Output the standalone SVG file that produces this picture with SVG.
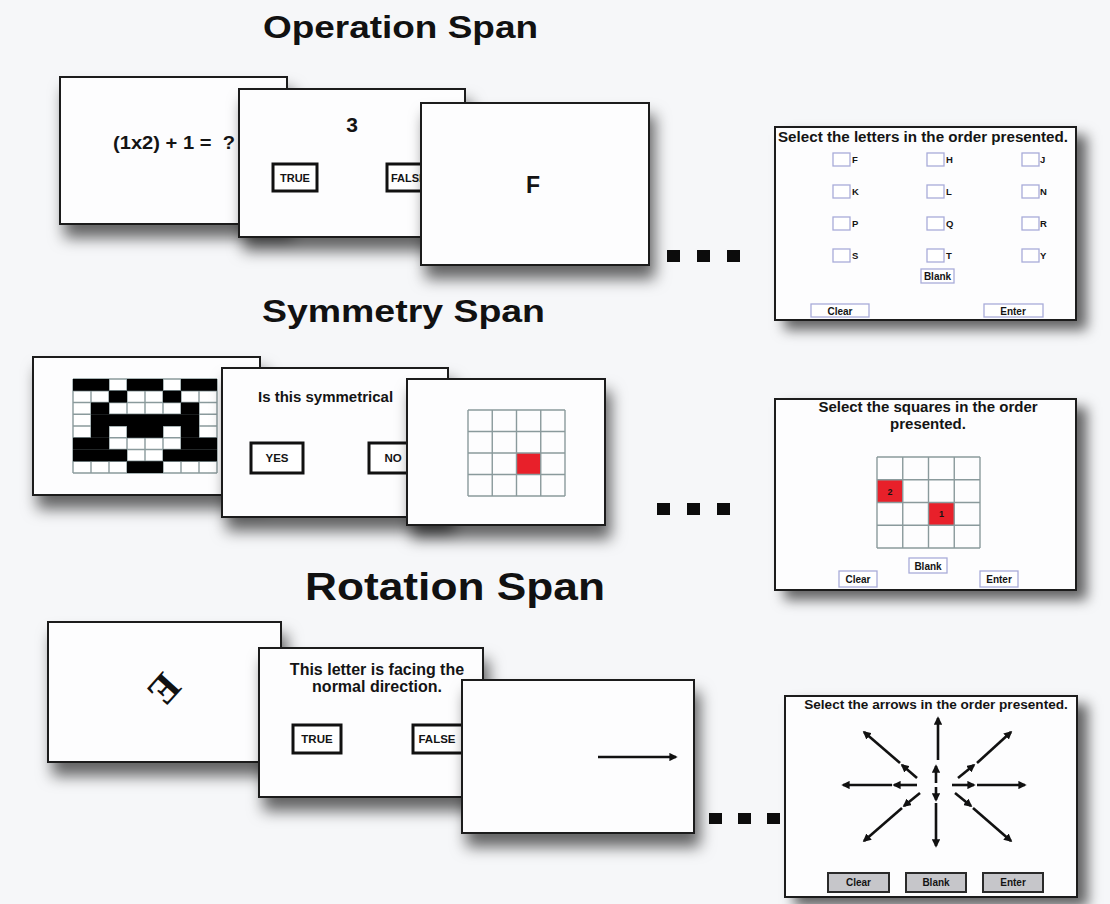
<svg xmlns="http://www.w3.org/2000/svg" width="1110" height="904" viewBox="0 0 1110 904">
<defs>
<style>
.title{font-family:"Liberation Sans",Arial,sans-serif;font-weight:bold;fill:#111}
.t{font-family:"Liberation Sans",Arial,sans-serif;font-weight:bold;fill:#141414}
.scr{fill:#fdfdfe;stroke:#1c1c1c;stroke-width:2}
.btn{fill:#fff;stroke:#111;stroke-width:3}
.cb{fill:#fff;stroke:#a9acd9;stroke-width:1.3}
.gb{fill:#c6c6ca;stroke:#2a2a2a;stroke-width:2}
.grid{fill:none;stroke:#8a9a9c;stroke-width:1.4}
.blk{fill:#000}
.red{fill:#e8202a}
.arr{stroke:#111;stroke-width:2.6;fill:none;marker-end:url(#ah)}
.dot{fill:#0c0c0c}
</style>
<filter id="sh" x="-15%" y="-15%" width="140%" height="150%">
<feDropShadow dx="5" dy="13" stdDeviation="7.5" flood-color="#000" flood-opacity="0.6"/>
</filter>
<filter id="shr" x="-15%" y="-15%" width="140%" height="150%">
<feDropShadow dx="10" dy="9" stdDeviation="6.5" flood-color="#000" flood-opacity="0.6"/>
</filter>
<marker id="ah" viewBox="0 0 10 10" refX="8" refY="5" markerWidth="3.2" markerHeight="3.2" orient="auto" markerUnits="strokeWidth">
<path d="M0,0 L10,5 L0,10 z" fill="#111"/>
</marker>
</defs>
<rect width="1110" height="904" fill="#f6f7f9"/>

<text class="title" x="263" y="38" font-size="31" textLength="275" lengthAdjust="spacingAndGlyphs">Operation Span</text>
<text class="title" x="262" y="322" font-size="31" textLength="283" lengthAdjust="spacingAndGlyphs">Symmetry Span</text>
<text class="title" x="305" y="600" font-size="38" textLength="300" lengthAdjust="spacingAndGlyphs">Rotation Span</text>

<!-- Operation span -->
<g id="op-equation">
<rect class="scr" x="60" y="77" width="227" height="147" filter="url(#sh)"/>
<text class="t" x="113" y="149" font-size="19" textLength="122" lengthAdjust="spacingAndGlyphs" style="white-space:pre">(1x2) + 1 =  ?</text>
</g>
<g id="op-answer">
<rect class="scr" x="239" y="89" width="226" height="148" filter="url(#sh)"/>
<text class="t" x="352" y="132" font-size="21" text-anchor="middle">3</text>
<rect class="btn" x="273" y="164" width="44" height="27"/>
<text class="t" x="295" y="182" font-size="11" text-anchor="middle">TRUE</text>
<rect class="btn" x="387" y="164" width="48" height="27"/>
<text class="t" x="391" y="182" font-size="11">FALSE</text>
</g>
<g id="op-letter">
<rect class="scr" x="421" y="103" width="228" height="162" filter="url(#sh)"/>
<text class="t" x="533" y="193" font-size="23" text-anchor="middle">F</text>
</g>
<g id="op-dots">
<rect class="dot" x="667" y="250" width="13" height="12"/>
<rect class="dot" x="697" y="250" width="13" height="12"/>
<rect class="dot" x="727" y="250" width="13" height="12"/>
</g>
<g id="op-recall">
<rect class="scr" x="775" y="127" width="301" height="193" filter="url(#shr)"/>
<text class="t" x="778" y="142" font-size="14" textLength="290" lengthAdjust="spacingAndGlyphs">Select the letters in the order presented.</text>
<g>
<rect class="cb" x="833" y="153" width="17" height="13"/><text class="t" x="852" y="163" font-size="9.5">F</text>
<rect class="cb" x="927" y="153" width="17" height="13"/><text class="t" x="946" y="163" font-size="9.5">H</text>
<rect class="cb" x="1022" y="153" width="17" height="13"/><text class="t" x="1040" y="163" font-size="9.5">J</text>
<rect class="cb" x="833" y="185" width="17" height="13"/><text class="t" x="852" y="195" font-size="9.5">K</text>
<rect class="cb" x="927" y="185" width="17" height="13"/><text class="t" x="946" y="195" font-size="9.5">L</text>
<rect class="cb" x="1022" y="185" width="17" height="13"/><text class="t" x="1040" y="195" font-size="9.5">N</text>
<rect class="cb" x="833" y="217" width="17" height="13"/><text class="t" x="852" y="227" font-size="9.5">P</text>
<rect class="cb" x="927" y="217" width="17" height="13"/><text class="t" x="946" y="227" font-size="9.5">Q</text>
<rect class="cb" x="1022" y="217" width="17" height="13"/><text class="t" x="1040" y="227" font-size="9.5">R</text>
<rect class="cb" x="833" y="249" width="17" height="13"/><text class="t" x="852" y="259" font-size="9.5">S</text>
<rect class="cb" x="927" y="249" width="17" height="13"/><text class="t" x="946" y="259" font-size="9.5">T</text>
<rect class="cb" x="1022" y="249" width="17" height="13"/><text class="t" x="1040" y="259" font-size="9.5">Y</text>
</g>
<rect class="cb" x="921" y="269" width="33" height="14"/>
<text class="t" x="937.5" y="279.5" font-size="10" text-anchor="middle">Blank</text>
<rect class="cb" x="811" y="304" width="58" height="13"/>
<text class="t" x="840" y="314.5" font-size="10" text-anchor="middle">Clear</text>
<rect class="cb" x="984" y="304" width="59" height="13"/>
<text class="t" x="1013" y="314.5" font-size="10" text-anchor="middle">Enter</text>
</g>

<!-- Symmetry span -->
<g id="sym-matrix">
<rect class="scr" x="33" y="357" width="227" height="138" filter="url(#sh)"/>
<rect x="73" y="379" width="144" height="94" fill="#fff"/>
<path class="grid" d="M73,379V473M91,379V473M109,379V473M127,379V473M145,379V473M163,379V473M181,379V473M199,379V473M217,379V473M73,379H217M73,390.75H217M73,402.5H217M73,414.25H217M73,426H217M73,437.75H217M73,449.5H217M73,461.25H217M73,473H217"/>
<rect class="blk" x="73" y="379" width="36" height="11.75"/>
<rect class="blk" x="127" y="379" width="36" height="11.75"/>
<rect class="blk" x="181" y="379" width="36" height="11.75"/>
<rect class="blk" x="109" y="390.75" width="18" height="11.75"/>
<rect class="blk" x="163" y="390.75" width="18" height="11.75"/>
<rect class="blk" x="91" y="402.5" width="18" height="11.75"/>
<rect class="blk" x="181" y="402.5" width="18" height="11.75"/>
<rect class="blk" x="91" y="414.25" width="108" height="11.75"/>
<rect class="blk" x="91" y="426" width="18" height="11.75"/>
<rect class="blk" x="127" y="426" width="36" height="11.75"/>
<rect class="blk" x="181" y="426" width="18" height="11.75"/>
<rect class="blk" x="73" y="437.75" width="36" height="11.75"/>
<rect class="blk" x="181" y="437.75" width="36" height="11.75"/>
<rect class="blk" x="73" y="449.5" width="54" height="11.75"/>
<rect class="blk" x="163" y="449.5" width="54" height="11.75"/>
<rect class="blk" x="127" y="461.25" width="36" height="11.75"/>
</g>
<g id="sym-question">
<rect class="scr" x="222" y="368" width="226" height="149" filter="url(#sh)"/>
<text class="t" x="258" y="402" font-size="15">Is this symmetrical</text>
<rect class="btn" x="251" y="443" width="52" height="30"/>
<text class="t" x="277" y="462" font-size="11.5" text-anchor="middle">YES</text>
<rect class="btn" x="369" y="443" width="52" height="30"/>
<text class="t" x="393" y="462" font-size="11.5" text-anchor="middle">NO</text>
</g>
<g id="sym-square">
<rect class="scr" x="407" y="379" width="198" height="146" filter="url(#sh)"/>
<rect class="red" x="516.5" y="453" width="24.25" height="21.5"/>
<path class="grid" d="M468,410V496M492.25,410V496M516.5,410V496M540.75,410V496M565,410V496M468,410H565M468,431.5H565M468,453H565M468,474.5H565M468,496H565"/>
</g>
<g id="sym-dots">
<rect class="dot" x="657" y="503" width="13" height="12"/>
<rect class="dot" x="687" y="503" width="13" height="12"/>
<rect class="dot" x="717" y="503" width="13" height="12"/>
</g>
<g id="sym-recall">
<rect class="scr" x="775" y="399" width="301" height="191" filter="url(#shr)"/>
<text class="t" x="928" y="412" font-size="15" text-anchor="middle">Select the squares in the order</text>
<text class="t" x="928" y="429" font-size="15" text-anchor="middle">presented.</text>
<rect class="red" x="877" y="479.75" width="25.75" height="22.75"/>
<rect class="red" x="928.5" y="502.5" width="25.75" height="22.75"/>
<path class="grid" d="M877,457V548M902.75,457V548M928.5,457V548M954.25,457V548M980,457V548M877,457H980M877,479.75H980M877,502.5H980M877,525.25H980M877,548H980"/>
<text class="t" x="889.9" y="494.5" font-size="9" text-anchor="middle">2</text>
<text class="t" x="941.4" y="517.3" font-size="9" text-anchor="middle">1</text>
<rect class="cb" x="909" y="558" width="38" height="15"/>
<text class="t" x="928" y="569.5" font-size="10" text-anchor="middle">Blank</text>
<rect class="cb" x="839" y="571" width="38" height="16"/>
<text class="t" x="858" y="583" font-size="10" text-anchor="middle">Clear</text>
<rect class="cb" x="980" y="571" width="38" height="16"/>
<text class="t" x="999" y="583" font-size="10" text-anchor="middle">Enter</text>
</g>

<!-- Rotation span -->
<g id="rot-letter">
<rect class="scr" x="48" y="622" width="233" height="140" filter="url(#sh)"/>
<text x="0" y="13" transform="translate(164,689) rotate(132)" text-anchor="middle" font-family="'Liberation Serif',serif" font-weight="bold" font-size="40" fill="#111">E</text>
</g>
<g id="rot-question">
<rect class="scr" x="259" y="648" width="224" height="149" filter="url(#sh)"/>
<text class="t" x="377" y="675" font-size="16" text-anchor="middle">This letter is facing the</text>
<text class="t" x="377" y="692" font-size="16" text-anchor="middle">normal direction.</text>
<rect class="btn" x="293" y="725" width="48" height="28"/>
<text class="t" x="317" y="743" font-size="11.5" text-anchor="middle">TRUE</text>
<rect class="btn" x="413" y="725" width="50" height="28"/>
<text class="t" x="437" y="743" font-size="11.5" text-anchor="middle">FALSE</text>
</g>
<g id="rot-arrow">
<rect class="scr" x="462" y="680" width="232" height="153" filter="url(#sh)"/>
</g>
<g id="rot-dots">
<rect class="dot" x="709" y="813" width="13" height="11"/>
<rect class="dot" x="738" y="813" width="13" height="11"/>
<rect class="dot" x="767" y="813" width="13" height="11"/>
</g>
<g id="rot-recall">
<rect class="scr" x="785" y="696" width="292" height="201" filter="url(#shr)"/>
<text class="t" x="936" y="709" font-size="13.6" text-anchor="middle">Select the arrows in the order presented.</text>
<rect class="gb" x="828" y="873" width="61" height="19"/>
<text class="t" x="858.5" y="886" font-size="10" text-anchor="middle" fill="#333">Clear</text>
<rect class="gb" x="906" y="873" width="60" height="19"/>
<text class="t" x="936" y="886" font-size="10" text-anchor="middle">Blank</text>
<rect class="gb" x="983" y="873" width="60" height="19"/>
<text class="t" x="1013" y="886" font-size="10" text-anchor="middle">Enter</text>
</g>

<g id="connectors">
<path class="arr" d="M598,757H676"/>
<path class="arr" d="M938,760V718"/>
<path class="arr" d="M936,783V766"/>
<path class="arr" d="M936,787V800"/>
<path class="arr" d="M936,803V846"/>
<path class="arr" d="M917,785H894"/>
<path class="arr" d="M892,785H843"/>
<path class="arr" d="M952,785H974"/>
<path class="arr" d="M977,785H1025"/>
<path class="arr" d="M917,778L902,765"/>
<path class="arr" d="M900,763L864,732"/>
<path class="arr" d="M958,778L974,765"/>
<path class="arr" d="M977,763L1011,732"/>
<path class="arr" d="M920,793L904,806"/>
<path class="arr" d="M902,808L864,841"/>
<path class="arr" d="M955,793L971,806"/>
<path class="arr" d="M973,808L1011,841"/>
</g>
</svg>
